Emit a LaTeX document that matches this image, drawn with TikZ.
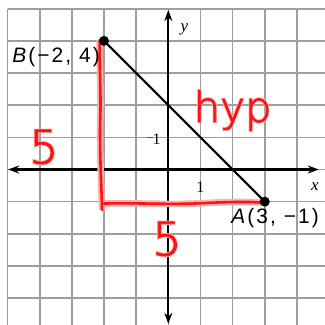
\documentclass[tikz,border=0pt]{standalone}
\usepackage{fontspec}
\setmainfont{Liberation Sans}
\newfontfamily\serifit{Liberation Serif}
\newfontfamily\hand{DejaVu Sans ExtraLight}[FakeBold=2]
\newfontfamily\handglow{DejaVu Sans ExtraLight}[FakeBold=6]
\usetikzlibrary{arrows.meta}
\definecolor{gridgray}{RGB}{158,158,158}
\definecolor{penred}{RGB}{250,20,20}
\definecolor{glowpink}{RGB}{255,175,175}
\begin{document}
\begin{tikzpicture}[x=32.15bp,y=32.15bp,
  gridline/.style={draw=gridgray,line width=1.6bp},
  axis/.style={draw=black,line width=2.2bp,{Stealth[length=11bp,width=8bp]}-{Stealth[length=11bp,width=8bp]}},
  seg/.style={draw=black,line width=2.2bp},
  dot/.style={circle,fill=black,inner sep=0pt,minimum size=10bp},
  ptlabel/.style={font=\fontsize{21}{21}\selectfont\addfontfeatures{LetterSpace=10},inner sep=0pt},
  axlabel/.style={font=\serifit\fontsize{17}{17}\selectfont\itshape,inner sep=0pt},
  ticklabel/.style={font=\serifit\fontsize{16}{16}\selectfont,inner sep=0pt},
  pen/.style={draw=penred,line width=2.6bp,line cap=round,line join=round,preaction={draw=glowpink,line width=6.5bp}},
  handg/.style={font=\handglow\fontsize{#1}{#1}\selectfont,text=glowpink,inner sep=0pt},
  handr/.style={font=\hand\fontsize{#1}{#1}\selectfont,text=penred,inner sep=0pt}
]
\useasboundingbox (-5.235,-4.837) rectangle (4.874,5.272);
\fill[white] (-5.235,-4.837) rectangle (4.874,5.272);
% grid
\foreach \i in {-5,...,4} \draw[gridline] (\i,5) -- (\i,-4.837);
\foreach \j in {-4,...,5} \draw[gridline] (-5,\j) -- (4.874,\j);
% axes
\coordinate (xl) at (-4.98,0);
\coordinate (xr) at (4.68,0);
\coordinate (yt) at (0,4.96);
\coordinate (yb) at (0,-4.8);
\draw[axis] (xl) -- (xr);
\draw[axis] (yb) -- (yt);
\coordinate (tk1) at (-0.66,1);
\coordinate (tk2) at (-0.47,1);
\draw[draw=black!70,line width=1.5bp] (tk1) -- (tk2);
\node[axlabel] (ylab) at (0.5,4.35) {y};
\node[axlabel] (xlab) at (4.56,-0.54) {x};
\node[ticklabel] (one-y) at (-0.36,0.95) {1};
\node[ticklabel] (one-x) at (1.0,-0.54) {1};
% red legs
\coordinate (r1) at (-2.13,4.03);
\coordinate (r2) at (-2.12,1.5);
\coordinate (r3) at (-2.06,-1.26);
\coordinate (h1) at (-2.0,-1.06);
\coordinate (h2) at (1,-1.05);
\coordinate (h3) at (2.9,-1.03);
\draw[pen] (r1) .. controls (-2.16,3.2) and (-2.08,2.4) .. (r2) .. controls (-2.14,0.6) and (-2.08,-0.5) .. (r3);
\draw[pen] (h1) .. controls (-1,-1.03) and (0,-1.1) .. (h2) .. controls (2,-1.0) and (2.5,-1.0) .. (h3);
% segment and points
\coordinate (Bp) at (-2,4);
\coordinate (Ap) at (3,-1);
\draw[seg] (Bp) -- (Ap);
\node[dot] (B) at (Bp) {};
\node[dot] (A) at (Ap) {};
\node[ptlabel] (Blab) at (-3.49,3.5) {\textit{B}(−2, 4)};
\node[ptlabel] (Alab) at (3.32,-1.51) {\textit{A}(3, −1)};
% handwriting
\node[handg=46] (fiveLg) at (-3.87,0.7) {5};
\node[handr=46] (fiveL) at (-3.87,0.7) {5};
\node[handg=46] (fiveBg) at (-0.04,-2.16) {5};
\node[handr=46] (fiveB) at (-0.04,-2.16) {5};
\node[handg=42,anchor=base] (hypg) at (2.0,1.48) {hyp};
\node[handr=42,anchor=base] (hyp) at (2.0,1.48) {hyp};
\end{tikzpicture}
\end{document}
